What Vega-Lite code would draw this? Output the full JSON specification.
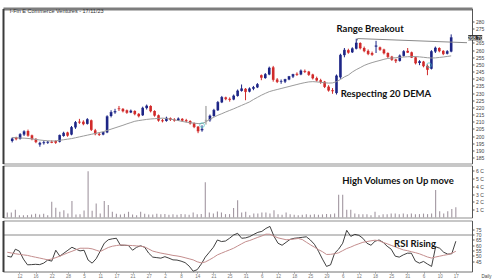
{
"$schema": "https://vega.github.io/schema/vega-lite/v6.json",
"padding": {"left": 2, "top": 7.5, "right": 0, "bottom": 0},
"background": "white",
"spacing": 0,
"config": {
  "view": {"stroke": "#8f8f8f", "strokeWidth": 1},
  "font": "Liberation Sans",
  "axis": {"labelFontSize": 5, "labelColor": "#444", "tickColor": "#555", "tickSize": 2, "domainColor": "#555", "grid": false, "labelPadding": 1.5, "labelFont": "Liberation Sans"}
},
"datasets": {
"k": [
{"i":0,"o":196.5,"h":199,"l":195.5,"c":198,"e":199,"v":0.64,"r":49.7,"m":53.4},
{"i":1,"o":199,"h":199.5,"l":197,"c":198,"e":198.8,"v":0.64,"r":48.8,"m":52.7},
{"i":2,"o":198,"h":202,"l":197.5,"c":201,"e":198.6,"v":1.0,"r":56.3,"m":52},
{"i":3,"o":201,"h":204,"l":200,"c":203,"e":198.5,"v":0.3,"r":54.4,"m":51.4},
{"i":4,"o":203.5,"h":204.5,"l":199.5,"c":200.5,"e":198.3,"v":0.3,"r":46.9,"m":50.9},
{"i":5,"o":200.5,"h":201,"l":197,"c":198,"e":198,"v":0.3,"r":41.5,"m":50.4},
{"i":6,"o":198,"h":198.5,"l":195,"c":196,"e":197.6,"v":0.38,"r":41.7,"m":49.5},
{"i":7,"o":194,"h":196,"l":192.5,"c":195,"e":197.2,"v":0.47,"r":42,"m":48.7},
{"i":8,"o":195,"h":197,"l":194,"c":195.4,"e":196.9,"v":0.38,"r":41.7,"m":47.9},
{"i":9,"o":195.4,"h":196.5,"l":194.5,"c":195.8,"e":196.7,"v":0.47,"r":43.1,"m":47.1},
{"i":10,"o":196,"h":197,"l":195,"c":195.5,"e":196.5,"v":0.3,"r":46,"m":46.2},
{"i":11,"o":196.5,"h":197,"l":194.5,"c":195.5,"e":196.6,"v":2.0,"r":45,"m":47},
{"i":12,"o":196,"h":201,"l":195.5,"c":200.5,"e":197,"v":1.24,"r":55.3,"m":48.3},
{"i":13,"o":200,"h":203,"l":199.5,"c":202,"e":197.4,"v":0.73,"r":49.7,"m":49.7},
{"i":14,"o":202.5,"h":203,"l":199.5,"c":200.5,"e":197.8,"v":0.94,"r":52.5,"m":51.3},
{"i":15,"o":201,"h":207,"l":200.5,"c":206,"e":198.2,"v":0.5,"r":55.3,"m":52.9},
{"i":16,"o":206,"h":210.5,"l":205,"c":209.5,"e":198.8,"v":2.1,"r":58.1,"m":54.3},
{"i":17,"o":210,"h":212,"l":208.5,"c":209.6,"e":199.4,"v":0.38,"r":56.3,"m":55.8},
{"i":18,"o":210,"h":211,"l":207.5,"c":208.5,"e":200,"v":0.43,"r":54.7,"m":57.2},
{"i":19,"o":208.5,"h":212.5,"l":208,"c":211.5,"e":200.6,"v":0.9,"r":55.3,"m":57.2},
{"i":20,"o":211,"h":211.5,"l":203.5,"c":204.5,"e":201.2,"v":5.9,"r":46,"m":57.2},
{"i":21,"o":204,"h":205,"l":200.5,"c":201.5,"e":201.8,"v":0.85,"r":43.1,"m":56.6},
{"i":22,"o":201.5,"h":202.5,"l":200,"c":201,"e":202.4,"v":1.8,"r":47.3,"m":55.3},
{"i":23,"o":201,"h":203,"l":200.5,"c":202.5,"e":203,"v":0.5,"r":54.4,"m":54.1},
{"i":24,"o":202.5,"h":214.5,"l":202,"c":213.5,"e":203.9,"v":2.1,"r":61.9,"m":56},
{"i":25,"o":214,"h":218,"l":213,"c":216.5,"e":204.8,"v":1.6,"r":65.2,"m":57.9},
{"i":26,"o":216.5,"h":219,"l":215.5,"c":217.2,"e":205.7,"v":0.73,"r":66.1,"m":59.1},
{"i":27,"o":219.3,"h":221,"l":217.5,"c":219,"e":206.6,"v":0.47,"r":66.6,"m":59.7},
{"i":28,"o":219,"h":219.5,"l":216.5,"c":217.5,"e":207.5,"v":0.38,"r":60,"m":60.3},
{"i":29,"o":218,"h":218.5,"l":215.5,"c":216.5,"e":208.5,"v":0.47,"r":60,"m":60.1},
{"i":30,"o":216.5,"h":218.5,"l":216,"c":217.5,"e":209.4,"v":0.73,"r":59.7,"m":59.9},
{"i":31,"o":217.5,"h":218,"l":214.5,"c":215.5,"e":210.3,"v":0.38,"r":55.3,"m":59.7},
{"i":32,"o":215.5,"h":216,"l":213,"c":214,"e":210.8,"v":0.3,"r":58.1,"m":59.4},
{"i":33,"o":214.5,"h":220.5,"l":214,"c":219.5,"e":211.2,"v":0.73,"r":59.5,"m":59.1},
{"i":34,"o":219.5,"h":222,"l":218.5,"c":221,"e":211.6,"v":0.47,"r":58.1,"m":58.4},
{"i":35,"o":221,"h":221.5,"l":216.5,"c":217.5,"e":211.9,"v":0.38,"r":52.5,"m":56.5},
{"i":36,"o":217.5,"h":218,"l":213.5,"c":214.5,"e":212.1,"v":0.38,"r":48.8,"m":54.5},
{"i":37,"o":214.5,"h":215,"l":210,"c":211,"e":212.3,"v":0.47,"r":48.3,"m":53.5},
{"i":38,"o":211,"h":212,"l":209.5,"c":210.5,"e":212.5,"v":0.4,"r":47.8,"m":52.6},
{"i":39,"o":210.5,"h":213.5,"l":210,"c":212.5,"e":212.2,"v":0.45,"r":49.2,"m":51.9},
{"i":40,"o":212.5,"h":213,"l":210.5,"c":211.5,"e":211.8,"v":0.35,"r":47.8,"m":51.2},
{"i":41,"o":211.5,"h":212.5,"l":210,"c":211,"e":211.3,"v":0.4,"r":46.2,"m":50.4},
{"i":42,"o":211,"h":213,"l":210.5,"c":212,"e":210.8,"v":0.35,"r":46,"m":49.9},
{"i":43,"o":212,"h":212.5,"l":210,"c":211,"e":210.2,"v":0.45,"r":45,"m":49.2},
{"i":44,"o":211,"h":212,"l":209.5,"c":210.5,"e":209.7,"v":0.4,"r":43.6,"m":48.2},
{"i":45,"o":210.5,"h":211,"l":208,"c":209,"e":209.3,"v":0.35,"r":40.3,"m":47.2},
{"i":46,"o":209,"h":209.5,"l":205.5,"c":206.5,"e":209,"v":0.64,"r":35.5,"m":46.2},
{"i":47,"o":206.5,"h":207,"l":202,"c":203.5,"e":208.7,"v":0.4,"r":36.9,"m":44.4},
{"i":48,"o":204,"h":207.5,"l":203,"c":204.8,"e":208.7,"v":0.45,"r":42.2,"m":43.3},
{"i":49,"o":211,"h":221,"l":208,"c":211,"e":210,"v":4.5,"r":48.8,"m":44.2},
{"i":50,"o":211,"h":215,"l":210,"c":214,"e":211.7,"v":0.64,"r":53.4,"m":46.2},
{"i":51,"o":214,"h":219,"l":213.5,"c":218,"e":213.2,"v":0.5,"r":58.1,"m":48.4},
{"i":52,"o":218,"h":224.5,"l":217.5,"c":223.5,"e":214.5,"v":0.77,"r":65,"m":50.9},
{"i":53,"o":223.5,"h":228,"l":223,"c":227,"e":215.6,"v":0.64,"r":63.5,"m":52.5},
{"i":54,"o":227,"h":227.5,"l":225,"c":226,"e":216.8,"v":0.43,"r":64,"m":54.1},
{"i":55,"o":226,"h":227,"l":224,"c":225.5,"e":217.9,"v":0.43,"r":66.6,"m":55.6},
{"i":56,"o":225.5,"h":229,"l":225,"c":228,"e":219,"v":1.2,"r":69.7,"m":57.2},
{"i":57,"o":228,"h":232.5,"l":227.5,"c":231.5,"e":220.2,"v":2.2,"r":71.3,"m":59.3},
{"i":58,"o":231.5,"h":236,"l":231,"c":233,"e":221.4,"v":0.64,"r":66.6,"m":61.4},
{"i":59,"o":233,"h":233.5,"l":225,"c":231,"e":222.6,"v":0.73,"r":67,"m":63.4},
{"i":60,"o":231,"h":234,"l":230.5,"c":233,"e":223.8,"v":0.3,"r":68.2,"m":64.5},
{"i":61,"o":233,"h":235,"l":232,"c":234,"e":225.5,"v":0.5,"r":70.3,"m":66},
{"i":62,"o":234,"h":237,"l":233.5,"c":236,"e":227,"v":0.5,"r":72.2,"m":67.5},
{"i":63,"o":242.5,"h":243,"l":239,"c":241,"e":228.5,"v":0.64,"r":73.1,"m":68.8},
{"i":64,"o":240.5,"h":244,"l":240,"c":243,"e":229.8,"v":0.64,"r":75.9,"m":70.5},
{"i":65,"o":243,"h":248.5,"l":242.5,"c":247.5,"e":231,"v":0.5,"r":77.8,"m":70.4},
{"i":66,"o":248,"h":249,"l":238,"c":239.5,"e":231.8,"v":0.94,"r":68.4,"m":68.6},
{"i":67,"o":239.5,"h":240.5,"l":237,"c":238,"e":232.5,"v":0.43,"r":61.9,"m":67},
{"i":68,"o":238,"h":239.5,"l":236.5,"c":238.2,"e":233.2,"v":0.34,"r":60,"m":66.1},
{"i":69,"o":238,"h":240,"l":237,"c":239.5,"e":233.9,"v":0.64,"r":62.8,"m":65.2},
{"i":70,"o":239.5,"h":242,"l":239,"c":241.5,"e":234.6,"v":0.43,"r":65.6,"m":65.4},
{"i":71,"o":241.5,"h":243.5,"l":240.5,"c":243,"e":235.3,"v":0.34,"r":66.6,"m":65.9},
{"i":72,"o":243.5,"h":244.5,"l":242,"c":243,"e":236,"v":0.3,"r":67,"m":66.4},
{"i":73,"o":243,"h":246.5,"l":242.5,"c":245.5,"e":236.7,"v":0.35,"r":67.5,"m":65.4},
{"i":74,"o":245.5,"h":246.5,"l":244,"c":245,"e":237.3,"v":0.4,"r":68,"m":62.9},
{"i":75,"o":245,"h":245.5,"l":242,"c":243,"e":237.8,"v":0.35,"r":65,"m":60.5},
{"i":76,"o":243,"h":243.5,"l":239.5,"c":240.5,"e":238,"v":0.4,"r":60.9,"m":58.2},
{"i":77,"o":240.5,"h":241.5,"l":238,"c":239,"e":237.8,"v":0.35,"r":54.4,"m":55.9},
{"i":78,"o":239,"h":240,"l":236.5,"c":238,"e":237.5,"v":0.4,"r":46.9,"m":53.9},
{"i":79,"o":238,"h":238.5,"l":233.5,"c":234.5,"e":237.2,"v":0.45,"r":40,"m":51.3},
{"i":80,"o":234.5,"h":235.5,"l":231,"c":232,"e":237,"v":0.4,"r":41.5,"m":51.4},
{"i":81,"o":232,"h":233.5,"l":229.5,"c":231.5,"e":237.1,"v":0.5,"r":52.5,"m":52},
{"i":82,"o":230,"h":243,"l":229,"c":242,"e":238,"v":2.9,"r":56.3,"m":52.9},
{"i":83,"o":241,"h":257.5,"l":240,"c":256.5,"e":239.5,"v":2.9,"r":61.9,"m":54.9},
{"i":84,"o":256.5,"h":261.5,"l":255,"c":260,"e":241.3,"v":1.0,"r":74.1,"m":56.9},
{"i":85,"o":260,"h":261,"l":257.5,"c":258.5,"e":242.6,"v":1.0,"r":68.4,"m":58.3},
{"i":86,"o":258.5,"h":262,"l":258,"c":261,"e":244.7,"v":0.5,"r":70.3,"m":60},
{"i":87,"o":261,"h":268,"l":260.5,"c":265,"e":246.4,"v":0.4,"r":69.4,"m":61.4},
{"i":88,"o":265,"h":265.5,"l":260.5,"c":261.5,"e":247.8,"v":0.4,"r":66.6,"m":62.8},
{"i":89,"o":261.5,"h":262.5,"l":258.5,"c":259.5,"e":249.3,"v":0.4,"r":61.9,"m":63.5},
{"i":90,"o":259.5,"h":260.5,"l":256.5,"c":257.5,"e":250.4,"v":0.3,"r":60,"m":64.2},
{"i":91,"o":258,"h":259,"l":256,"c":257,"e":251.3,"v":0.73,"r":63.8,"m":64.8},
{"i":92,"o":262.5,"h":266.5,"l":258,"c":263,"e":252.1,"v":0.3,"r":65,"m":64.2},
{"i":93,"o":262,"h":262.5,"l":259.5,"c":260.5,"e":252.8,"v":0.43,"r":62.8,"m":62.7},
{"i":94,"o":260.5,"h":261,"l":257,"c":258,"e":253.6,"v":0.43,"r":59.1,"m":61.4},
{"i":95,"o":258,"h":258.5,"l":254.5,"c":255.5,"e":254.2,"v":0.5,"r":56.3,"m":59.9},
{"i":96,"o":255.5,"h":256,"l":252.5,"c":253.5,"e":254.5,"v":0.5,"r":49.7,"m":58.5},
{"i":97,"o":253.5,"h":254,"l":251,"c":252.5,"e":254.7,"v":0.43,"r":48.8,"m":57},
{"i":98,"o":252.5,"h":257,"l":252,"c":256,"e":255,"v":0.5,"r":50.9,"m":55.6},
{"i":99,"o":256,"h":260,"l":255.5,"c":259,"e":255.2,"v":0.43,"r":52.5,"m":54.9},
{"i":100,"o":259.5,"h":261.5,"l":258,"c":258.5,"e":255.4,"v":0.5,"r":52.5,"m":53.9},
{"i":101,"o":258.5,"h":259,"l":254.5,"c":255,"e":255.5,"v":0.43,"r":45,"m":53},
{"i":102,"o":255,"h":255.5,"l":250,"c":251,"e":255.5,"v":0.43,"r":43.1,"m":51.9},
{"i":103,"o":251,"h":253,"l":249.5,"c":252,"e":255.3,"v":0.5,"r":44.7,"m":50.4},
{"i":104,"o":252,"h":252.5,"l":248,"c":249,"e":255,"v":0.43,"r":42.2,"m":48.9},
{"i":105,"o":249,"h":250,"l":242.5,"c":246.5,"e":254.7,"v":0.5,"r":40,"m":47.9},
{"i":106,"o":247,"h":260,"l":246.5,"c":259,"e":254.5,"v":3.5,"r":58.6,"m":48.9},
{"i":107,"o":259,"h":262.5,"l":258,"c":261.5,"e":254.6,"v":0.8,"r":57.2,"m":49.7},
{"i":108,"o":261.5,"h":262,"l":258.5,"c":259.5,"e":254.9,"v":0.5,"r":53.4,"m":50.5},
{"i":109,"o":259.5,"h":260,"l":256.5,"c":257.5,"e":255.2,"v":0.8,"r":51.6,"m":51.2},
{"i":110,"o":257.5,"h":260,"l":257,"c":259,"e":255.6,"v":1.1,"r":52,"m":52.5},
{"i":111,"o":259,"h":271,"l":258.5,"c":268.7,"e":256,"v":1.3,"r":63.8,"m":54.3}
],
"pa": [{"i":90.5,"p":275.1,"t":"Range Breakout"},{"i":94.5,"p":229.7,"t":"Respecting 20 DEMA"}],
"ttl": [{"i":-0.6,"p":287.3,"t":"I-Fin E Commerce Ventures - 17/11/23"}],
"rg": [{"i":87.3,"p":266.8,"s":0},{"i":87.3,"p":268.1,"s":1},{"i":115,"p":265.2,"s":2}],
"tc": [{"i":48,"p":207.6},{"i":105.4,"p":249.5}],
"lp": [{"i":111,"p":268.7,"t":"268.70"}],
"va": [{"i":96.7,"v":4.6,"t":"High Volumes on Up move"}],
"ra": [{"i":100.9,"r":60.9,"t":"RSI Rising"}]
},
"vconcat": [
{
  "width": 469, "height": 155,
  "encoding": {"x": {"field": "i", "type": "quantitative", "scale": {"domain": [-1.06, 115], "nice": false, "zero": false}, "axis": {"orient": "top", "labels": false, "ticks": false, "domainColor": "#7d7d7d", "domainWidth": 3, "title": null}}},
  "layer": [
    {"data": {"name": "k"}, "mark": {"type": "rule", "strokeWidth": 1},
     "encoding": {"y": {"field": "l", "type": "quantitative", "scale": {"domain": [180.8, 289.1], "nice": false, "zero": false}, "axis": {"orient": "right", "values": [185,190,195,200,205,210,215,220,225,230,235,240,245,250,255,260,265,275,280], "title": null}}, "y2": {"field": "h"},
      "color": {"condition": [{"test": "datum.c > datum.o", "value": "#1d2586"}, {"test": "datum.c < datum.o", "value": "#d12a2a"}], "value": "#8a8a8a"}}},
    {"data": {"name": "k"}, "mark": {"type": "bar", "size": 2.6},
     "encoding": {"y": {"field": "o", "type": "quantitative", "axis": null}, "y2": {"field": "c"},
      "color": {"condition": [{"test": "datum.c > datum.o", "value": "#1d2586"}, {"test": "datum.c < datum.o", "value": "#d12a2a"}], "value": "#8a8a8a"}}},
    {"data": {"name": "k"}, "mark": {"type": "tick", "orient": "horizontal", "size": 2.6, "thickness": 0.8},
     "encoding": {"y": {"field": "c", "type": "quantitative", "axis": null},
      "color": {"condition": [{"test": "datum.c > datum.o", "value": "#1d2586"}, {"test": "datum.c < datum.o", "value": "#d12a2a"}], "value": "#8a8a8a"}}},
    {"data": {"name": "k"}, "mark": {"type": "line", "color": "#9b9b9b", "strokeWidth": 1},
     "encoding": {"y": {"field": "e", "type": "quantitative", "axis": {"orient": "left", "labels": false, "ticks": false, "domainColor": "#3a3a3a", "domainWidth": 2, "title": null}}}},
    {"data": {"name": "rg"}, "mark": {"type": "line", "color": "#8a8a8a", "strokeWidth": 1},
     "encoding": {"y": {"field": "p", "type": "quantitative", "axis": null}, "order": {"field": "s"}}},
    {"data": {"name": "tc"}, "mark": {"type": "point", "filled": false, "color": "#3fc0c2", "size": 22, "strokeWidth": 1},
     "encoding": {"y": {"field": "p", "type": "quantitative", "axis": null}}},
    {"data": {"name": "pa"}, "mark": {"type": "text", "font": "Lato", "fontWeight": "bold", "fontSize": 9.5, "color": "#111"},
     "encoding": {"y": {"field": "p", "type": "quantitative", "axis": null}, "text": {"field": "t"}}},
    {"data": {"name": "ttl"}, "mark": {"type": "text", "align": "left", "fontSize": 5.5, "color": "#333"},
     "encoding": {"y": {"field": "p", "type": "quantitative", "axis": null}, "text": {"field": "t"}}},
    {"data": {"name": "lp"}, "mark": {"type": "point", "shape": "M-1,-0.38H1V0.38H-1Z", "filled": true, "color": "#333", "size": 196, "opacity": 1, "xOffset": 24},
     "encoding": {"y": {"field": "p", "type": "quantitative", "axis": null}}},
    {"data": {"name": "lp"}, "mark": {"type": "text", "fontSize": 5, "color": "white", "dx": 24},
     "encoding": {"y": {"field": "p", "type": "quantitative", "axis": null}, "text": {"field": "t"}}}
  ],
  "resolve": {"axis": {"y": "independent"}}
},
{
  "width": 469, "height": 52,
  "encoding": {"x": {"field": "i", "type": "quantitative", "scale": {"domain": [-1.06, 115], "nice": false, "zero": false}, "axis": null}},
  "layer": [
    {"data": {"name": "k"}, "mark": {"type": "rule", "color": "#a297a1", "strokeWidth": 1.1},
     "encoding": {"y": {"field": "v", "type": "quantitative", "scale": {"domain": [0, 6.64], "nice": false}, "axis": {"orient": "right", "values": [1,2,3,4,5,6], "labelExpr": "datum.value + ' C'", "title": null}}, "y2": {"datum": 0}}},
    {"data": {"name": "va"}, "mark": {"type": "text", "font": "Lato", "fontWeight": "bold", "fontSize": 9.5, "color": "#111"},
     "encoding": {"y": {"field": "v", "type": "quantitative", "axis": {"orient": "left", "labels": false, "ticks": false, "domainColor": "#3a3a3a", "domainWidth": 2, "title": null}}, "text": {"field": "t"}}}
  ],
  "resolve": {"axis": {"y": "independent"}}
},
{
  "width": 469, "height": 51,
  "encoding": {"x": {"field": "i", "type": "quantitative", "scale": {"domain": [-1.06, 115], "nice": false, "zero": false},
    "axis": {"values": [3,7,11,15,19,23,27,31,35,39,43,47,51,55,59,63,67,71,75,79,83,87,91,95,99,103,107,111],
      "labelExpr": "['12','16','22','28','5','11','17','21','27','2','8','14','21','25','31','6','12','18','25','29','6','12','18','25','31','6','10','17'][(datum.value-3)/4]",
      "labelColor": "#777", "domainColor": "#aaa", "tickColor": "#888", "tickSize": 1.5, "labelPadding": 0.5, "labelFontSize": 4.5,
      "title": "Daily", "titleFontSize": 4.5, "titleFontWeight": "normal", "titleColor": "#444", "titleX": 488, "titleY": 2, "titleBaseline": "top", "titleAlign": "right", "titlePadding": 0}}},
  "layer": [
    {"data": {"name": "k"}, "mark": {"type": "line", "color": "#2a2a2a", "strokeWidth": 0.9},
     "encoding": {"y": {"field": "r", "type": "quantitative", "scale": {"domain": [35.2, 83.4], "nice": false, "zero": false}, "axis": {"orient": "right", "values": [45,50,55,60,65,70,75], "title": null}}}},
    {"data": {"name": "k"}, "mark": {"type": "line", "color": "#c48e8e", "strokeWidth": 1},
     "encoding": {"y": {"field": "m", "type": "quantitative", "axis": {"orient": "left", "labels": false, "ticks": false, "values": [70], "grid": true, "gridColor": "#8a8a8a", "gridWidth": 1, "domainColor": "#3a3a3a", "domainWidth": 2, "title": null}}}},
    {"data": {"name": "ra"}, "mark": {"type": "text", "font": "Lato", "fontWeight": "bold", "fontSize": 9.5, "color": "#111"},
     "encoding": {"y": {"field": "r", "type": "quantitative", "axis": null}, "text": {"field": "t"}}}
  ],
  "resolve": {"axis": {"y": "independent"}}
}
]
}
